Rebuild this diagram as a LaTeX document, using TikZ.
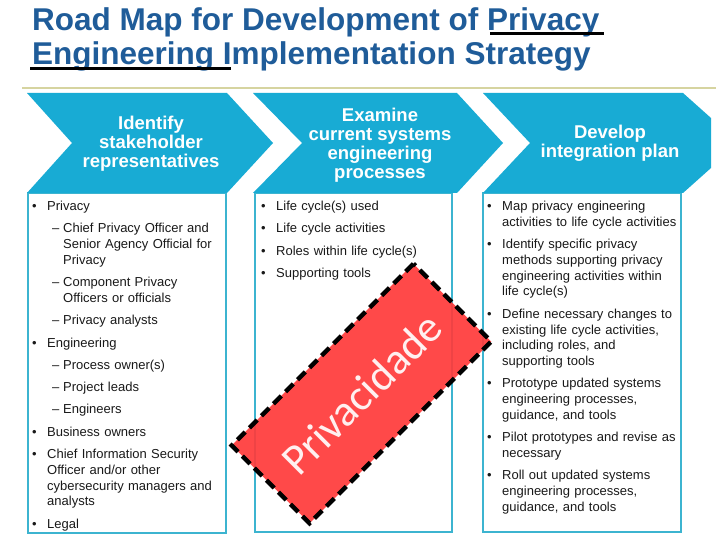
\documentclass[tikz,border=0pt]{standalone}
\usepackage{fontspec}
\setmainfont{Liberation Sans}
\newfontfamily\carlito{Carlito}
\definecolor{titleblue}{RGB}{31,92,153}
\definecolor{stepblue}{RGB}{24,171,212}
\definecolor{boxblue}{RGB}{60,180,208}
\definecolor{ruleolive}{RGB}{214,212,160}
\definecolor{stampred}{RGB}{255,58,58}
\definecolor{bodytext}{RGB}{25,25,25}
% list entries (bullet and dash)
\newcommand\bul{\par\hangindent=15pt\hangafter=1\noindent\strut\makebox[15pt][l]{\textbullet}}
\newcommand\subbul{\par\hangindent=31pt\hangafter=1\noindent\strut\hspace*{20pt}\makebox[11pt][l]{--}}

\begin{document}
\begin{tikzpicture}[x=1pt,y=-1pt,
  titletext/.style={anchor=base west, inner sep=0pt, text=titleblue, font=\bfseries\fontsize{31.5}{34}\selectfont},
  chevron/.style={fill=stepblue},
  steptext/.style={text=white, align=center, font=\bfseries\fontsize{18.5}{19}\selectfont},
  colbox/.style={draw=boxblue, line width=2.5pt},
  list/.style={anchor=north west, inner sep=0pt, text width=#1, align=left, text=bodytext,
    font=\fontsize{13}{15.8}\selectfont\setlength{\parskip}{6.5pt}},
  stamp/.style={fill=stampred, fill opacity=0.92, draw=black, line width=4.5pt,
    dash pattern=on 11pt off 6pt, text=white, inner sep=0pt,
    font=\carlito\fontsize{44}{44}\selectfont}]
  \useasboundingbox (0,0) rectangle (720,540);
  \fill[white] (0,0) rectangle (720,540);

  % title
  \node[titletext] (title1) at (32,31) {Road Map for Development of Privacy};
  \node[titletext] (title2) at (32,65) {Engineering Implementation Strategy};
  \draw[line width=3pt] (490,34) -- (604,34);
  \draw[line width=3pt] (30,69) -- (231,69);
  \draw[ruleolive, line width=2.5pt] (22,88) -- (716,88);

  % columns
  \draw[colbox] (28,193) rectangle (226,533);
  \draw[colbox] (255,193) rectangle (452,532);
  \draw[colbox] (483,193) rectangle (681,532);

  % chevrons
  \fill[chevron] (27,93) -- (227,93) -- (273,143) -- (227,193) -- (27,193) -- (72,143) -- cycle;
  \fill[chevron] (253,93) -- (457,93) -- (503,143) -- (457,193) -- (253,193) -- (302,143) -- cycle;
  \fill[chevron] (483,93) -- (683,93) -- (711,118) -- (711,168) -- (683,193) -- (483,193) -- (530,143) -- cycle;
  \node[steptext] (lbl1) at (151,144) {Identify\\stakeholder\\representatives};
  \node[steptext] (lbl2) at (380,145) {Examine\\current systems\\engineering\\processes};
  \node[steptext] (lbl3) at (610,143) {Develop\\integration plan};

  % lists
  \node[list=192pt] (list1) at (32,188) {%
    \bul Privacy
    \subbul Chief Privacy Officer and\newline Senior Agency Official for\newline Privacy
    \subbul Component Privacy\newline Officers or officials
    \subbul Privacy analysts
    \bul Engineering
    \subbul Process owner(s)
    \subbul Project leads
    \subbul Engineers
    \bul Business owners
    \bul Chief Information Security\newline Officer and/or other\newline cybersecurity managers and\newline analysts
    \bul Legal\par};
  \node[list=188pt] (list2) at (261,188) {%
    \bul Life cycle(s) used
    \bul Life cycle activities
    \bul Roles within life cycle(s)
    \bul Supporting tools\par};
  \node[list=192pt] (list3) at (487,188) {%
    \bul Map privacy engineering\newline activities to life cycle activities
    \bul Identify specific privacy\newline methods supporting privacy\newline engineering activities within\newline life cycle(s)
    \bul Define necessary changes to\newline existing life cycle activities,\newline including roles, and\newline supporting tools
    \bul Prototype updated systems\newline engineering processes,\newline guidance, and tools
    \bul Pilot prototypes and revise as\newline necessary
    \bul Roll out updated systems\newline engineering processes,\newline guidance, and tools\par};

  % stamp
  \node[stamp, rotate=45, minimum width=257pt, minimum height=110pt] (priv) at (361.5,393.5) {Privacidade};
\end{tikzpicture}
\end{document}
